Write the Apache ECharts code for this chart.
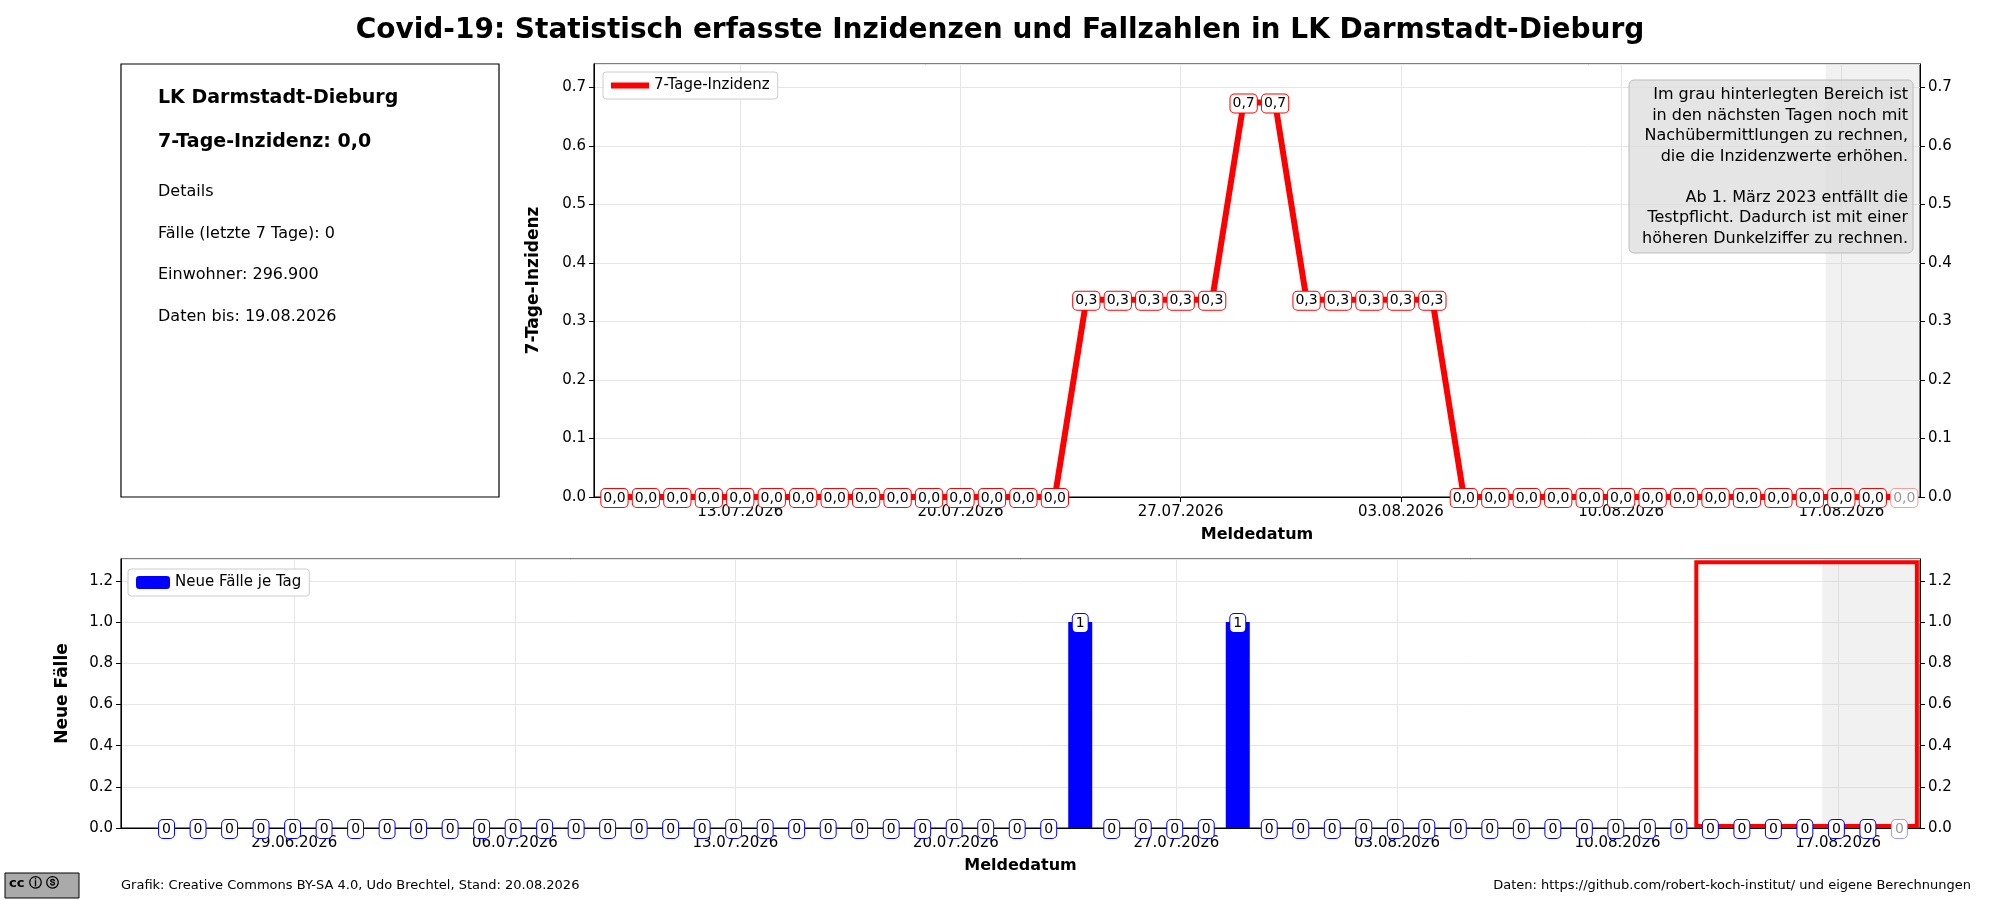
<!DOCTYPE html>
<html><head><meta charset="utf-8">
<script src="https://cdn.jsdelivr.net/npm/echarts@6/dist/echarts.min.js"></script>
<style>html,body{margin:0;padding:0;background:#fff}#c{width:2000px;height:900px}</style>
</head><body><div id="c"></div>
<script>
// ---- data ----
const topDates = ['09.07','10.07','11.07','12.07','13.07','14.07','15.07','16.07','17.07','18.07','19.07','20.07','21.07','22.07','23.07','24.07','25.07','26.07','27.07','28.07','29.07','30.07','31.07','01.08','02.08','03.08','04.08','05.08','06.08','07.08','08.08','09.08','10.08','11.08','12.08','13.08','14.08','15.08','16.08','17.08','18.08','19.08'];
const incidence = [0,0,0,0,0,0,0,0,0,0,0,0,0,0,0,0.337,0.337,0.337,0.337,0.337,0.674,0.674,0.337,0.337,0.337,0.337,0.337,0,0,0,0,0,0,0,0,0,0,0,0,0,0,0];
const barDates = ['25.06','26.06','27.06','28.06','29.06','30.06','01.07','02.07','03.07','04.07','05.07','06.07','07.07','08.07','09.07','10.07','11.07','12.07','13.07','14.07','15.07','16.07','17.07','18.07','19.07','20.07','21.07','22.07','23.07','24.07','25.07','26.07','27.07','28.07','29.07','30.07','31.07','01.08','02.08','03.08','04.08','05.08','06.08','07.08','08.08','09.08','10.08','11.08','12.08','13.08','14.08','15.08','16.08','17.08','18.08','19.08'];
const newCases = [0,0,0,0,0,0,0,0,0,0,0,0,0,0,0,0,0,0,0,0,0,0,0,0,0,0,0,0,0,1,0,0,0,0,1,0,0,0,0,0,0,0,0,0,0,0,0,0,0,0,0,0,0,0,0,0];
const tickDates = ['29.06','06.07','13.07','20.07','27.07','03.08','10.08','17.08'];

const base = new Date(2026,5,29);
function idx(s){const [d,m]=s.split('.').map(Number);return Math.round((new Date(2026,m-1,d)-base)/86400000);}
function fmtDate(v){const dt=new Date(base.getTime()+Math.round(v)*86400000);const p=n=>String(n).padStart(2,'0');return p(dt.getDate())+'.'+p(dt.getMonth()+1)+'.'+dt.getFullYear();}
const ticks = tickDates.map(idx);
const F='DejaVu Sans';

const lineData = topDates.map((d,i)=>{const o={value:[idx(d),incidence[i]]};if(i===topDates.length-1)o.label={color:'#999',borderColor:'#f99'};return o;});
const barData = barDates.map((d,i)=>{const o={value:[idx(d),newCases[i]]};if(i===barDates.length-1)o.label={color:'#999',borderColor:'#99f'};return o;});

function xAxisCfg(gi,min,max){return {type:'value',gridIndex:gi,min:min,max:max,
  name:'Meldedatum',nameLocation:'middle',nameGap:30,nameTextStyle:{fontFamily:F,fontSize:16,fontWeight:'bold',color:'#000'},
  axisLine:{onZero:false,lineStyle:{color:'#000'}},axisTick:{customValues:ticks,length:5,lineStyle:{color:'#000'}},
  axisLabel:{customValues:ticks,formatter:fmtDate,fontFamily:F,fontSize:15,color:'#000'},
  splitLine:{show:true,lineStyle:{color:'#e6e6e6'}}};}
function yAxisCfg(gi,max,interval,name,gap,pos){return {type:'value',gridIndex:gi,min:0,max:max,interval:interval,position:pos,
  name:pos==='left'?name:'',nameLocation:'middle',nameGap:gap,nameTextStyle:{fontFamily:F,fontSize:17,fontWeight:'bold',color:'#000'},
  axisLine:{show:true,onZero:false,lineStyle:{color:'#000'}},axisTick:{show:true,length:5,lineStyle:{color:'#000'}},
  axisLabel:{showMaxLabel:false,fontFamily:F,fontSize:15,color:'#000',formatter:v=>v.toFixed(1)},
  splitLine:{show:pos==='left',lineStyle:{color:'#e6e6e6'}}};}

const chart = echarts.init(document.getElementById('c'));
chart.setOption({
  animation:false,
  title:{text:'Covid-19: Statistisch erfasste Inzidenzen und Fallzahlen in LK Darmstadt-Dieburg',left:'center',top:12,textStyle:{fontFamily:F,fontSize:28,fontWeight:'bold',color:'#000'}},
  grid:[{left:594,right:80,top:64,height:433,show:true,borderColor:'#000',borderWidth:1.2},
        {left:121,right:80,top:559,height:269,show:true,borderColor:'#000',borderWidth:1.2}],
  xAxis:[xAxisCfg(0,9.35,51.5),xAxisCfg(1,-5.5,51.6)],
  yAxis:[yAxisCfg(0,0.74,0.1,'7-Tage-Inzidenz',52,'left'),yAxisCfg(0,0.74,0.1,'',0,'right'),
         yAxisCfg(1,1.306,0.2,'Neue Fälle',50,'left'),yAxisCfg(1,1.306,0.2,'',0,'right')],
  legend:[{data:[{name:'7-Tage-Inzidenz',icon:'rect'}],left:603,top:72,orient:'vertical',backgroundColor:'#fff',borderColor:'#ccc',borderWidth:1,borderRadius:3,padding:[6,8],itemWidth:38,itemHeight:6,textStyle:{fontFamily:F,fontSize:15,color:'#000'}},
          {data:['Neue Fälle je Tag'],left:128,top:569,backgroundColor:'#fff',borderColor:'#ccc',borderWidth:1,borderRadius:3,padding:[6,8],itemWidth:34,itemHeight:13,textStyle:{fontFamily:F,fontSize:15,color:'#000'}}],
  series:[
    {name:'7-Tage-Inzidenz',type:'line',xAxisIndex:0,yAxisIndex:0,data:lineData,symbol:'circle',symbolSize:0.1,showSymbol:true,showAllSymbol:true,color:'red',
     lineStyle:{color:'red',width:6},
     label:{show:true,position:'top',distance:-10,formatter:p=>p.value[1].toFixed(1).replace('.',','),fontFamily:F,fontSize:14,color:'#000',backgroundColor:'#fff',borderColor:'red',borderWidth:1,borderRadius:4,padding:[2,2]},
     labelLayout:{hideOverlap:false},
     markArea:{silent:true,data:[[{xAxis:48.5,itemStyle:{color:'rgba(200,200,200,0.25)'}},{xAxis:51.5}]]},z:3},
    {name:'7-Tage-Inzidenz-r',type:'line',xAxisIndex:0,yAxisIndex:1,data:[],silent:true},
    {name:'Neue Fälle je Tag',type:'bar',xAxisIndex:1,yAxisIndex:2,data:barData,barWidth:24,color:'blue',itemStyle:{color:'blue'},
     label:{show:true,position:'top',distance:-10,formatter:p=>String(p.value[1]),fontFamily:F,fontSize:14,color:'#000',backgroundColor:'#fff',borderColor:'blue',borderWidth:1,borderRadius:4,padding:[2,3]},
     labelLayout:{hideOverlap:false},
     markArea:{silent:true,data:[
       [{xAxis:48.5,yAxis:0,itemStyle:{color:'rgba(200,200,200,0.25)'}},{xAxis:51.6,yAxis:1.306}],
       [{xAxis:44.5,yAxis:0.01,itemStyle:{color:'rgba(0,0,0,0)',borderColor:'red',borderWidth:4}},{xAxis:51.5,yAxis:1.29}]]}},
    {name:'nf-r',type:'bar',xAxisIndex:1,yAxisIndex:3,data:[],silent:true}
  ],
  graphic:[
    {type:'rect',shape:{x:121,y:64,width:378,height:433},style:{fill:'#fff',stroke:'#000',lineWidth:1.2}},
    {type:'text',x:158,y:89,style:{text:'LK Darmstadt-Dieburg',font:'bold 19px "DejaVu Sans"',fill:'#000'}},
    {type:'text',x:158,y:133,style:{text:'7-Tage-Inzidenz: 0,0',font:'bold 19px "DejaVu Sans"',fill:'#000'}},
    {type:'text',x:158,y:184,style:{text:'Details',font:'16px "DejaVu Sans"',fill:'#000'}},
    {type:'text',x:158,y:226,style:{text:'Fälle (letzte 7 Tage): 0',font:'16px "DejaVu Sans"',fill:'#000'}},
    {type:'text',x:158,y:267,style:{text:'Einwohner: 296.900',font:'16px "DejaVu Sans"',fill:'#000'}},
    {type:'text',x:158,y:309,style:{text:'Daten bis: 19.08.2026',font:'16px "DejaVu Sans"',fill:'#000'}},
    {type:'rect',shape:{x:1629,y:80,width:284,height:173,r:5},style:{fill:'rgba(220,220,220,0.75)',stroke:'#bbb',lineWidth:1},z:10},
    {type:'text',x:1908,y:85,z:11,style:{text:'Im grau hinterlegten Bereich ist\nin den nächsten Tagen noch mit\nNachübermittlungen zu rechnen,\ndie die Inzidenzwerte erhöhen.\n\nAb 1. März 2023 entfällt die\nTestpflicht. Dadurch ist mit einer\nhöheren Dunkelziffer zu rechnen.',font:'16px "DejaVu Sans"',lineHeight:20.5,fill:'#000',textAlign:'right'}},
    {type:'text',x:121,y:879,style:{text:'Grafik: Creative Commons BY-SA 4.0, Udo Brechtel, Stand: 20.08.2026',font:'13px "DejaVu Sans"',fill:'#000'}},
    {type:'text',x:1971,y:879,style:{text:'Daten: https://github.com/robert-koch-institut/ und eigene Berechnungen',font:'13px "DejaVu Sans"',fill:'#000',textAlign:'right'}},
    {type:'rect',shape:{x:5,y:873,width:74,height:25},style:{fill:'#aaa',stroke:'#000',lineWidth:1}},
    {type:'text',x:9,y:877,style:{text:'cc ⓘ ⓢ',font:'bold 13px "DejaVu Sans"',fill:'#000'}}
  ]
});
</script></body></html>
